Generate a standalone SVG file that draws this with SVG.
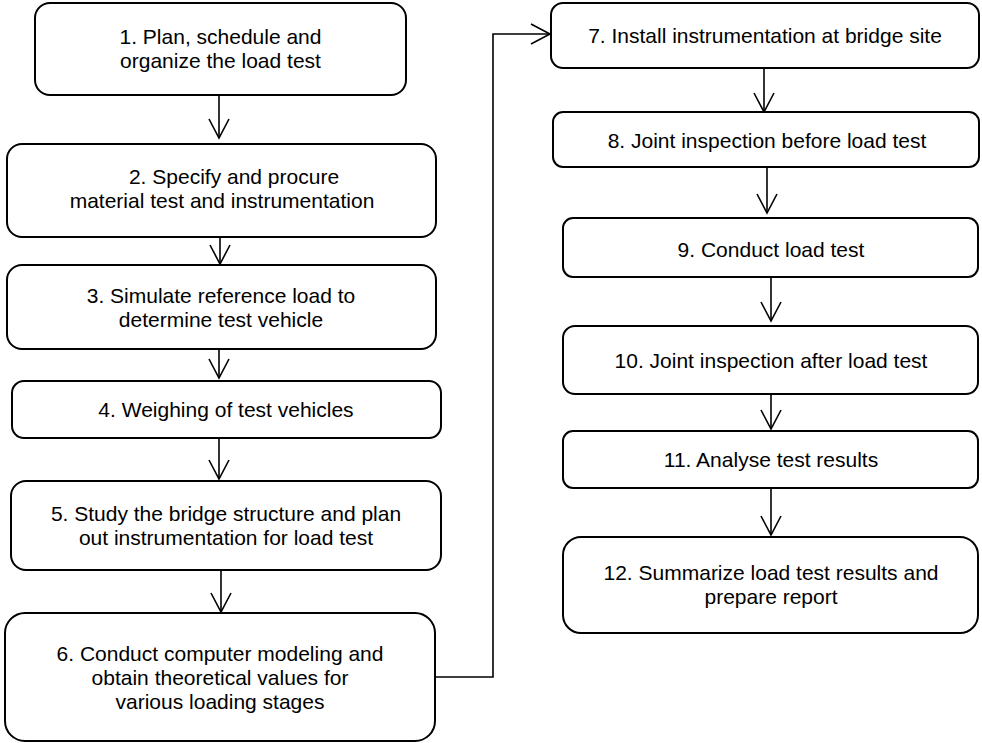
<svg xmlns="http://www.w3.org/2000/svg" width="982" height="743" viewBox="0 0 982 743">
<defs>
<style>
.box{fill:#fff;stroke:#000;stroke-width:2}
.t{font-family:"Liberation Sans",Arial,sans-serif;font-size:21px;fill:#000;text-anchor:middle}
.c{fill:none;stroke:#000;stroke-width:1.6}
</style>
<marker id="ah" markerUnits="userSpaceOnUse" markerWidth="24" markerHeight="24" viewBox="-22 -12 24 24" refX="0" refY="0" orient="auto">
<path d="M-19,-10 L0,0 L-19,10" fill="none" stroke="#000" stroke-width="1.6"/>
</marker>
</defs>
<rect width="982" height="743" fill="#fff"/>
<g id="connectors">
<line class="c" x1="219" y1="96" x2="219" y2="138" marker-end="url(#ah)"/>
<line class="c" x1="220" y1="238" x2="220" y2="264" marker-end="url(#ah)"/>
<line class="c" x1="219" y1="350" x2="219" y2="378" marker-end="url(#ah)"/>
<line class="c" x1="219" y1="439" x2="219" y2="479" marker-end="url(#ah)"/>
<line class="c" x1="221" y1="571" x2="221" y2="612" marker-end="url(#ah)"/>
<polyline class="c" points="436,677 493,677 493,34 550,34" marker-end="url(#ah)"/>
<line class="c" x1="764" y1="69" x2="764" y2="112" marker-end="url(#ah)"/>
<line class="c" x1="767" y1="168" x2="767" y2="213" marker-end="url(#ah)"/>
<line class="c" x1="771" y1="278" x2="771" y2="321" marker-end="url(#ah)"/>
<line class="c" x1="771" y1="395" x2="771" y2="429" marker-end="url(#ah)"/>
<line class="c" x1="771" y1="489" x2="771" y2="535" marker-end="url(#ah)"/>
</g>
<g id="n1"><rect class="box" x="35" y="3" width="371" height="92" rx="15"/><text class="t" x="220.5" y="44">1. Plan, schedule and</text><text class="t" x="220.5" y="68">organize the load test</text></g>
<g id="n2"><rect class="box" x="7" y="144" width="429" height="93" rx="15"/><text class="t" x="234" y="184">2. Specify and procure</text><text class="t" x="222" y="208">material test and instrumentation</text></g>
<g id="n3"><rect class="box" x="7" y="265" width="429" height="84" rx="15"/><text class="t" x="221" y="303">3. Simulate reference load to</text><text class="t" x="221" y="327">determine test vehicle</text></g>
<g id="n4"><rect class="box" x="12" y="381" width="429" height="57" rx="12"/><text class="t" x="226" y="417">4. Weighing of test vehicles</text></g>
<g id="n5"><rect class="box" x="11" y="481" width="430" height="89" rx="15"/><text class="t" x="226" y="521">5. Study the bridge structure and plan</text><text class="t" x="226" y="545">out instrumentation for load test</text></g>
<g id="n6"><rect class="box" x="5" y="613" width="430" height="128" rx="20"/><text class="t" x="220" y="661">6. Conduct computer modeling and</text><text class="t" x="220" y="685">obtain theoretical values for</text><text class="t" x="220" y="709">various loading stages</text></g>
<g id="n7"><rect class="box" x="551" y="3" width="428" height="65" rx="12"/><text class="t" x="765" y="43">7. Install instrumentation at bridge site</text></g>
<g id="n8"><rect class="box" x="553" y="112" width="426" height="55" rx="10"/><text class="t" x="767" y="148">8. Joint inspection before load test</text></g>
<g id="n9"><rect class="box" x="563" y="218" width="415" height="59" rx="10"/><text class="t" x="771" y="257">9. Conduct load test</text></g>
<g id="n10"><rect class="box" x="563" y="326" width="415" height="68" rx="12"/><text class="t" x="771" y="368">10. Joint inspection after load test</text></g>
<g id="n11"><rect class="box" x="563" y="431" width="415" height="57" rx="10"/><text class="t" x="771" y="467">11. Analyse test results</text></g>
<g id="n12"><rect class="box" x="563" y="537" width="415" height="96" rx="18"/><text class="t" x="771" y="580">12. Summarize load test results and</text><text class="t" x="771" y="604">prepare report</text></g>
</svg>
